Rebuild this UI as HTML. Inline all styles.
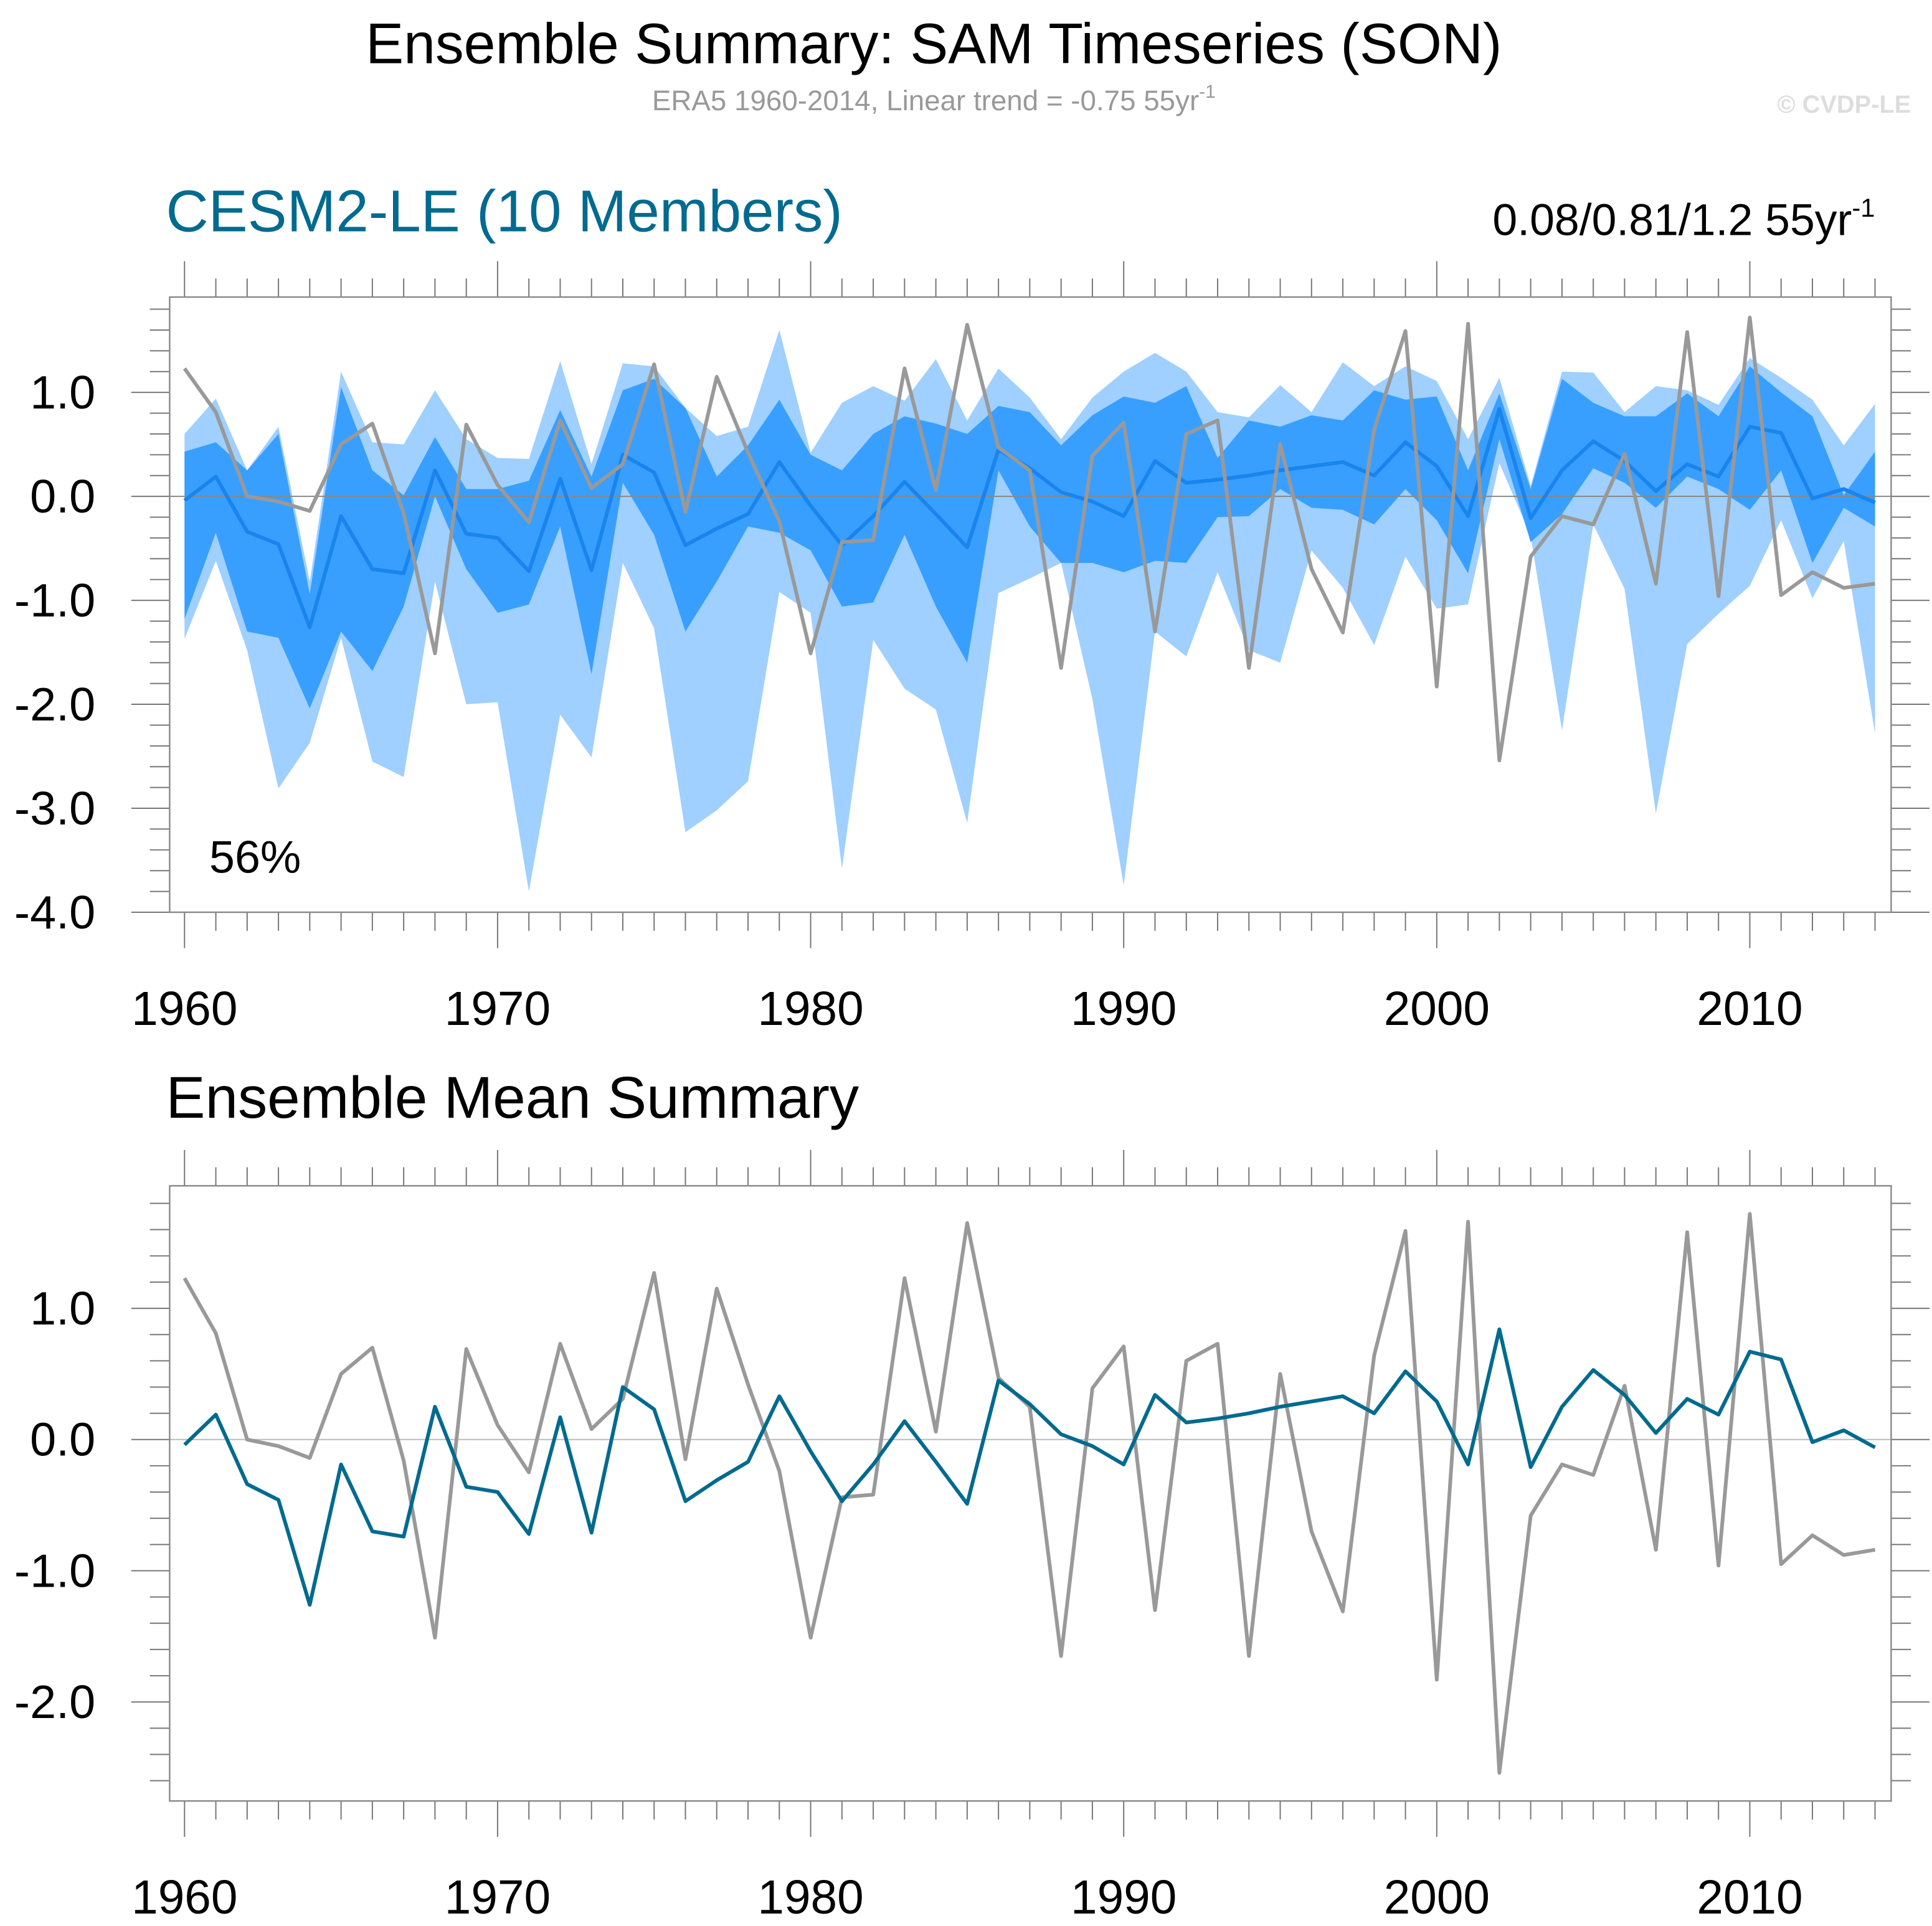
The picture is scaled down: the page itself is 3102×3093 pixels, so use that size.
<!DOCTYPE html>
<html><head><meta charset="utf-8"><style>
html,body{margin:0;padding:0;background:#fff;}
svg{display:block;font-family:"Liberation Sans",Arial,sans-serif;}
</style></head><body>
<svg id="chart" width="3102" height="3093" viewBox="0 0 1560 1556" preserveAspectRatio="none" xmlns="http://www.w3.org/2000/svg">
<text x="754" y="51" font-size="46" text-anchor="middle" fill="#000">Ensemble Summary: SAM Timeseries (SON)</text>
<text x="754" y="89" font-size="23" text-anchor="middle" fill="#999">ERA5 1960-2014, Linear trend = -0.75 55yr<tspan dy="-10" font-size="15">-1</tspan></text>
<text x="1543" y="91" font-size="20" font-weight="bold" text-anchor="end" fill="#ddd">© CVDP-LE</text>
<text x="134" y="187" font-size="47.5" fill="#006a8f">CESM2-LE (10 Members)</text>
<text x="1514" y="190" font-size="36" text-anchor="end" fill="#000">0.08/0.81/1.2 55yr<tspan dy="-15" font-size="21">-1</tspan></text>
<text x="134" y="903" font-size="47.5" fill="#000">Ensemble Mean Summary</text>
<g id="top"></g>
<g id="bot"></g>
</svg>
<script>
const years=[];for(let y=1960;y<=2014;y++)years.push(y);
const obs=[1.23,0.81,0.0,-0.05,-0.14,0.5,0.7,-0.16,-1.51,0.69,0.11,-0.25,0.73,0.08,0.31,1.27,-0.15,1.15,0.42,-0.24,-1.51,-0.44,-0.42,1.23,0.06,1.65,0.47,0.25,-1.65,0.39,0.71,-1.3,0.6,0.73,-1.65,0.5,-0.7,-1.31,0.64,1.59,-1.83,1.66,-2.54,-0.58,-0.19,-0.27,0.41,-0.84,1.58,-0.96,1.72,-0.95,-0.73,-0.88,-0.84];
const ensMean=[-0.04,0.19,-0.34,-0.46,-1.26,-0.19,-0.7,-0.74,0.25,-0.36,-0.4,-0.72,0.17,-0.71,0.4,0.23,-0.47,-0.31,-0.17,0.33,-0.09,-0.47,-0.19,0.14,-0.17,-0.49,0.45,0.27,0.04,-0.05,-0.19,0.34,0.13,0.16,0.2,0.25,0.29,0.33,0.2,0.52,0.29,-0.19,0.84,-0.21,0.25,0.53,0.34,0.05,0.31,0.19,0.67,0.61,-0.02,0.07,-0.06];
const ensMax=[0.6,0.94,0.25,0.67,-0.82,1.2,0.52,0.5,1.02,0.55,0.37,0.36,1.3,0.31,1.28,1.25,0.85,0.58,0.67,1.6,0.42,0.9,1.06,0.92,1.32,0.73,1.23,0.95,0.55,0.95,1.2,1.38,1.2,0.81,0.76,1.07,0.81,1.29,1.06,1.25,1.11,0.55,1.14,0.1,1.2,1.19,0.81,1.06,1.02,0.88,1.33,1.14,0.93,0.49,0.89];
const ensMin=[-1.37,-0.62,-1.48,-2.81,-2.37,-1.36,-2.55,-2.7,-0.82,-2.0,-1.98,-3.8,-2.1,-2.51,-0.64,-1.27,-3.23,-3.02,-2.74,-0.92,-1.12,-3.58,-1.38,-1.85,-2.05,-3.14,-0.93,-0.79,-0.64,-1.95,-3.74,-1.3,-1.54,-0.73,-1.48,-1.6,-0.52,-0.88,-1.43,-0.58,-1.08,-1.04,0.32,-0.38,-2.25,-0.27,-0.89,-3.05,-1.42,-1.13,-0.86,-0.23,-0.98,-0.43,-2.28];
const ensP75=[0.43,0.52,0.25,0.6,-0.94,1.05,0.25,0.01,0.57,0.07,0.07,0.15,0.83,0.19,1.02,1.13,0.85,0.19,0.49,0.93,0.4,0.25,0.6,0.77,0.7,0.6,0.87,0.81,0.49,0.78,0.96,0.9,1.06,0.37,0.73,0.67,0.78,0.73,1.02,0.93,0.96,0.25,0.99,0.07,1.13,0.9,0.77,0.77,0.99,0.77,1.25,1.0,0.77,0.01,0.43];
const ensP25=[-1.18,-0.35,-1.3,-1.36,-2.04,-1.3,-1.68,-1.06,0.0,-0.7,-1.12,-1.04,-0.29,-1.71,0.13,-0.37,-1.3,-0.82,-0.29,-0.35,-0.52,-1.06,-1.02,-0.37,-1.06,-1.6,0.25,-0.29,-0.64,-0.64,-0.73,-0.62,-0.64,-0.2,-0.19,0.07,-0.11,-0.13,-0.27,0.07,-0.23,-0.74,0.55,-0.44,-0.17,0.27,0.13,-0.11,0.19,0.07,-0.13,0.25,-0.64,-0.11,-0.29];
const topTicks=[1.0,0.0,-1.0,-2.0,-3.0,-4.0];
const botTicks=[1.0,0.0,-1.0,-2.0];
const decadeLabels=[1960,1970,1980,1990,2000,2010];

const NS='http://www.w3.org/2000/svg';
function mk(tag,attrs,parent,txt){const e=document.createElementNS(NS,tag);for(const k in attrs)e.setAttribute(k,attrs[k]);if(txt!==undefined)e.textContent=txt;parent.appendChild(e);return e;}
const L=137,R=1527;
const xs=y=>149+(y-1960)*(1514-149)/54;

function panel(g,top,bottom,y0,yPerUnit,vmin,vmax,ticks,name){
  const ys=v=>y0-v*yPerUnit;
  const ax=mk('g',{},g);
  
  
  for(let i=Math.ceil(vmin*5);i<=Math.floor(vmax*5);i++){
    const v=i/5,maj=Math.abs(v-Math.round(v))<1e-6;
    const yy=ys(v),len=maj?31:16;
    mk('line',{x1:L-len,x2:L,y1:yy,y2:yy,stroke:'#777','stroke-width':1},ax);
    mk('line',{x1:R,x2:R+len,y1:yy,y2:yy,stroke:'#777','stroke-width':1},ax);
  }
  ticks.forEach(v=>{const t=mk('text',{x:77,y:ys(v)+13,'font-size':38,'text-anchor':'end',fill:'#000'},ax,v.toFixed(1));
    
    });
  years.forEach(y=>{const maj=y%10===0,len=maj?29:15,x=xs(y);
    mk('line',{x1:x,x2:x,y1:top-len,y2:top,stroke:'#777','stroke-width':1},ax);
    mk('line',{x1:x,x2:x,y1:bottom,y2:bottom+len,stroke:'#777','stroke-width':1},ax);});
  decadeLabels.forEach(y=>{const t=mk('text',{x:xs(y),y:bottom+91,'font-size':38.5,'text-anchor':'middle',fill:'#000'},ax,String(y));
    
    });
  return ys;
}
function poly(a,b,ys){let p=years.map((y,i)=>xs(y)+','+ys(a[i]));for(let i=years.length-1;i>=0;i--)p.push(xs(years[i])+','+ys(b[i]));return p.join(' ');}
function line(a,ys){return years.map((y,i)=>xs(y)+','+ys(a[i])).join(' ');}

const gt=document.getElementById('top');
const ysT=panel(gt,240,737,401,84,-4,1.92,topTicks,'top-panel');
let e=mk('polygon',{points:poly(ensMax,ensMin,ysT),fill:'#9fd0ff'},gt);


e=mk('polygon',{points:poly(ensP75,ensP25,ysT),fill:'#389fff'},gt);


e=mk('line',{x1:L,x2:R,y1:ysT(0),y2:ysT(0),stroke:'#888','stroke-width':1},gt);


e=mk('polyline',{points:line(ensMean,ysT),fill:'none',stroke:'#1a84ee','stroke-width':3,'stroke-linejoin':'round'},gt);


e=mk('polyline',{points:line(obs,ysT),fill:'none',stroke:'#999','stroke-width':3,'stroke-linejoin':'round'},gt);


e=mk('rect',{x:L,y:240,width:R-L,height:497,fill:'none',stroke:'#888','stroke-width':1.2},gt);


e=mk('text',{x:169,y:705,'font-size':37,fill:'#000'},gt,'56%');



const gb=document.getElementById('bot');
const ysB=panel(gb,958,1455,1163,106,-2.75,1.93,botTicks,'bottom-panel');
e=mk('line',{x1:L,x2:R,y1:ysB(0),y2:ysB(0),stroke:'#bbb','stroke-width':1},gb);


e=mk('polyline',{points:line(obs,ysB),fill:'none',stroke:'#999','stroke-width':3,'stroke-linejoin':'round'},gb);


e=mk('polyline',{points:line(ensMean,ysB),fill:'none',stroke:'#006a8f','stroke-width':3,'stroke-linejoin':'round'},gb);


e=mk('rect',{x:L,y:958,width:R-L,height:497,fill:'none',stroke:'#888','stroke-width':1.2},gb);


</script>
</body></html>
